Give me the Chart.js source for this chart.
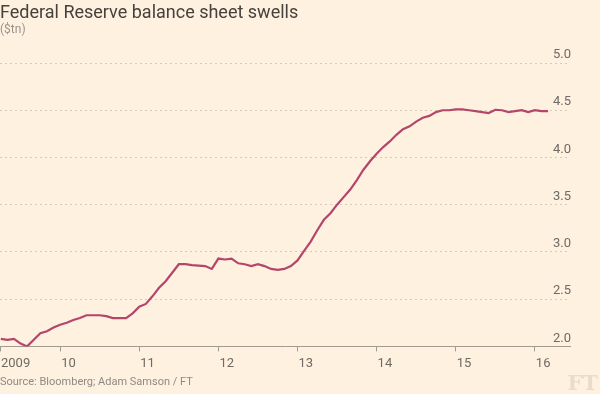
<!DOCTYPE html>
<html>
<head>
<meta charset="utf-8">
<title>Federal Reserve balance sheet swells</title>
<script src="https://cdn.jsdelivr.net/npm/chart.js"></script>
<style>
  html, body { margin: 0; padding: 0; background: #fff1e0; }
  #wrap { width: 600px; height: 394px; }
</style>
</head>
<body>
<div id="wrap"><canvas id="chart" width="600" height="394"></canvas></div>
<script>
// Баланс ФРС, трлн $ — щомісячно, з квітня 2009 по березень 2016
const balance2009 = [2.08, 2.07, 2.08, 2.03, 2.00, 2.07, 2.14, 2.16, 2.20]; // квіт-груд
const balance2010 = [2.23, 2.25, 2.28, 2.30, 2.33, 2.33, 2.33, 2.32, 2.30, 2.30, 2.30, 2.35];
const balance2011 = [2.42, 2.45, 2.53, 2.62, 2.69, 2.78, 2.87, 2.87, 2.86, 2.855, 2.85, 2.82];
const balance2012 = [2.93, 2.92, 2.93, 2.88, 2.87, 2.85, 2.87, 2.85, 2.82, 2.81, 2.82, 2.85];
const balance2013 = [2.91, 3.01, 3.11, 3.23, 3.34, 3.41, 3.50, 3.58, 3.66, 3.76, 3.87, 3.96];
const balance2014 = [4.04, 4.11, 4.17, 4.24, 4.30, 4.33, 4.38, 4.42, 4.44, 4.48, 4.50, 4.50];
const balance2015 = [4.51, 4.51, 4.50, 4.49, 4.48, 4.47, 4.505, 4.50, 4.48, 4.49, 4.50, 4.48];
const balance2016 = [4.50, 4.49, 4.49]; // січ-бер

const yearsData = [
  [2009, 4, balance2009],
  [2010, 1, balance2010],
  [2011, 1, balance2011],
  [2012, 1, balance2012],
  [2013, 1, balance2013],
  [2014, 1, balance2014],
  [2015, 1, balance2015],
  [2016, 1, balance2016],
];

// Підписи осей
const xTickValues = [2009.24, 2010, 2011, 2012, 2013, 2014, 2015, 2016];
const xTickLabels = ['2009', '10', '11', '12', '13', '14', '15', '16'];
const yTickValues = [2.0, 2.5, 3.0, 3.5, 4.0, 4.5, 5.0];

const points = [];
yearsData.forEach(([year, firstMonth, vals]) => {
  vals.forEach((v, i) => {
    points.push({ x: year + (firstMonth - 1 + i) / 12, y: v });
  });
});

const textColor = '#6e6a65';
const gridColor = '#d6cabb';
const axisColor = '#a09a90';
const fontFamily = 'Roboto, "Open Sans", sans-serif';

// Заголовок, джерело, лого
const decor = {
  id: 'decor',
  afterDraw(chart) {
    const ctx = chart.ctx;
    ctx.save();
    ctx.textBaseline = 'alphabetic';
    ctx.textAlign = 'left';
    ctx.fillStyle = '#45413d';
    ctx.font = '18px ' + fontFamily;
    ctx.fillText('Federal Reserve balance sheet swells', 0, 18);
    ctx.fillStyle = '#9a948d';
    ctx.font = '12px ' + fontFamily;
    ctx.fillText('($tn)', 0, 33);
    ctx.fillStyle = '#8f8a84';
    ctx.font = '11px ' + fontFamily;
    ctx.fillText('Source: Bloomberg; Adam Samson / FT', 0, 385);
    ctx.fillStyle = '#e9dccb';
    ctx.font = 'bold 21px "DejaVu Serif", "Liberation Serif", serif';
    ctx.textAlign = 'right';
    ctx.fillText('FT', 598, 390);
    ctx.restore();
  }
};

new Chart(document.getElementById('chart'), {
  type: 'line',
  data: {
    datasets: [{
      label: 'Balance sheet',
      data: points,
      borderColor: '#b3466a',
      borderWidth: 2.2,
      pointRadius: 0,
      tension: 0,
      fill: false
    }]
  },
  options: {
    responsive: false,
    animation: false,
    layout: { padding: { left: 0, right: 28, top: 63, bottom: 17 } },
    plugins: {
      legend: { display: false },
      tooltip: { enabled: false }
    },
    scales: {
      x: {
        type: 'linear',
        min: 2009.24,
        max: 2016.444,
        afterBuildTicks: s => { s.ticks = xTickValues.map(v => ({ value: v })); },
        afterFit: s => { s.paddingLeft = 0; },
        grid: { drawOnChartArea: false, drawTicks: true, tickLength: 5, color: axisColor },
        border: { color: axisColor, width: 1 },
        ticks: {
          autoSkip: false,
          maxRotation: 0,
          align: 'start',
          padding: 5,
          labelOffset: 1,
          color: textColor,
          font: { family: fontFamily, size: 13 },
          callback: (v, i) => xTickLabels[i]
        }
      },
      y: {
        position: 'right',
        min: 2,
        max: 5,
        afterBuildTicks: s => { s.ticks = yTickValues.map(v => ({ value: v })); },
        grid: {
          drawTicks: false,
          lineWidth: 1,
          color: c => (c.tick && c.tick.value === 2) ? 'rgba(0,0,0,0)' : gridColor
        },
        border: { display: false, dash: [2, 3] },
        ticks: {
          mirror: true,
          padding: 1,
          labelOffset: -8,
          color: textColor,
          font: { family: fontFamily, size: 13 },
          callback: v => v.toFixed(1)
        }
      }
    }
  },
  plugins: [decor]
});
</script>
</body>
</html>
